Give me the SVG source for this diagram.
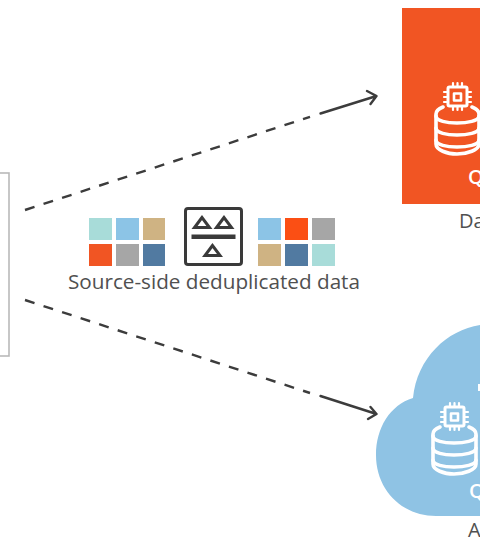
<svg xmlns="http://www.w3.org/2000/svg" width="480" height="543" viewBox="0 0 480 543">
<style>
.lbl{font-family:"Open Sans","Liberation Sans",sans-serif;font-size:20px;fill:#505050}
.q{font-family:"Open Sans","Liberation Sans",sans-serif;font-size:20px;font-weight:600;fill:#fff}
.dash{fill:none;stroke:#3c3c3c;stroke-width:2.400;stroke-dasharray:10 9.500}
.line{fill:none;stroke:#3c3c3c;stroke-width:2.400;stroke-linecap:round;stroke-linejoin:round}
.ico{fill:none;stroke:#fff;stroke-width:3.600;stroke-linejoin:round;stroke-linecap:round}
.tri{fill:none;stroke:#3a3a3a;stroke-width:3;stroke-linejoin:miter}
</style>
<defs>
<g id="db" class="ico">
<rect x="-9" y="-10" width="19" height="19" rx="1.500" stroke-width="3"/>
<rect x="-3" y="-3.500" width="7" height="7" stroke-width="2.600"/>
<path d="M-13 -5H-9M-13 0H-9M-13 5H-9M10 -5H14M10 0H14M10 5H14M-4 -14V-10M0.500 -14V-10M5 -14V-10M-4 9V13M0.500 9V13M5 9V13" stroke-width="2.200"/>
<path d="M-14 10C-19 12 -21 14 -21 17V47C-21 53 -10 57 0 57S22 53 22 47V17C22 14 20 12 15 10"/>
<path d="M-21 19C-21 24 -10 26 0 26S22 24 22 19M-21 31C-21 36 -10 38 0 38S22 36 22 31M-21 43C-21 48 -10 50 0 50S22 48 22 43"/>
</g>
</defs>
<rect width="480" height="543" fill="#fff"/>
<g id="source"><rect x="-20" y="173" width="29" height="183" fill="#fff" stroke="#b9b9b9" stroke-width="1.600"/></g>
<g id="connectors">
<path class="dash" d="M25 210L310 116.800"/>
<path class="line" d="M320.500 113.500L376.500 96M367 91L376.500 96L370.500 104"/>
<path class="dash" d="M25 300L310 393"/>
<path class="line" d="M320.500 396L376.500 414M370.500 407L376.500 414L368 419"/>
</g>
<g id="datacenter">
<rect x="402" y="8" width="78" height="196" fill="#f15523"/>
<use href="#db" x="457" y="97"/>
<text class="q" x="468" y="184">Q</text>
<text class="lbl" x="459" y="228">Da</text>
</g>
<g id="cloud">
<path d="M480 325C447 330 417 358 413 398C390 405 376 428 376 455C376 490 402 516 436 516H480Z" fill="#8fc3e4"/>
<use href="#db" x="454" y="417"/>
<rect x="478" y="384" width="2" height="7" fill="#fff"/>
<text class="q" x="469" y="498">Q</text>
<text class="lbl" x="468" y="537">A</text>
</g>
<g id="deduplicated">
<rect x="89" y="218" width="23" height="22" fill="#a8dcd9"/>
<rect x="116" y="218" width="23" height="22" fill="#8cc4e6"/>
<rect x="143" y="218" width="22" height="22" fill="#cfb383"/>
<rect x="89" y="244" width="23" height="22" fill="#f15523"/>
<rect x="116" y="244" width="23" height="22" fill="#a6a6a6"/>
<rect x="143" y="244" width="22" height="22" fill="#517aa1"/>
<rect x="258" y="218" width="23" height="22" fill="#8cc4e6"/>
<rect x="285" y="218" width="23" height="22" fill="#fb4f14"/>
<rect x="312" y="218" width="23" height="22" fill="#a6a6a6"/>
<rect x="258" y="244" width="23" height="22" fill="#cfb383"/>
<rect x="285" y="244" width="23" height="22" fill="#517aa1"/>
<rect x="312" y="244" width="23" height="22" fill="#a8dcd9"/>
<rect x="185.500" y="208.500" width="56" height="56" rx="2.500" fill="none" stroke="#3a3a3a" stroke-width="3"/>
<path class="tri" d="M202 217.500L194.500 227.500H209.500Z"/>
<path class="tri" d="M224 217.500L216.500 227.500H231.500Z"/>
<rect x="191.500" y="234.500" width="44" height="4.500" fill="#3a3a3a"/>
<path class="tri" d="M212.500 245.500L205 255.500H220Z"/>
<text class="lbl" x="68" y="289" textLength="292" lengthAdjust="spacingAndGlyphs">Source-side deduplicated data</text>
</g>
</svg>
